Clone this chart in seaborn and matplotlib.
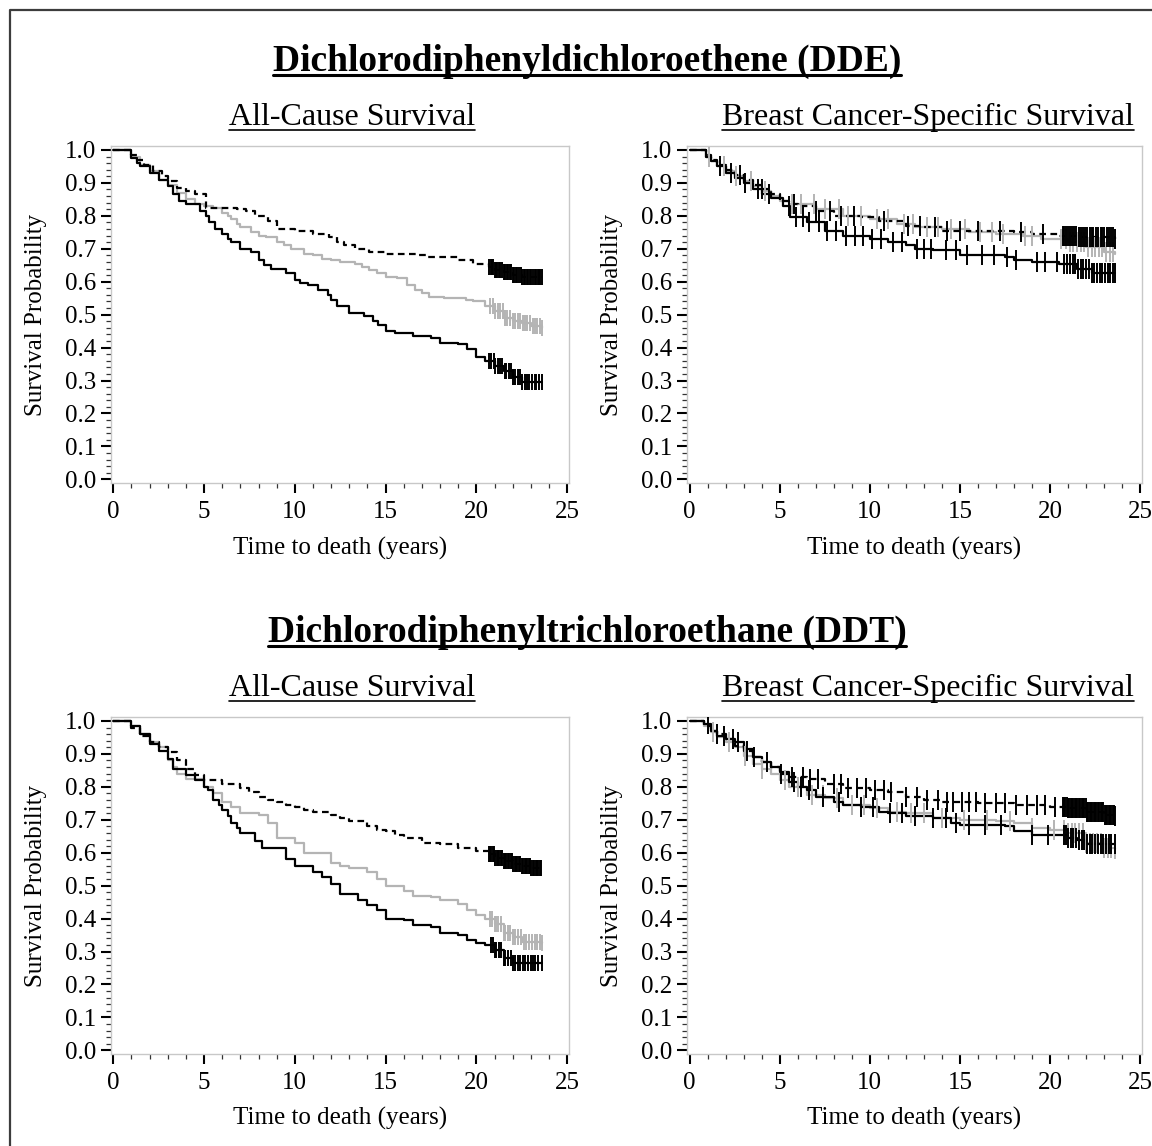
import numpy as np
import pandas as pd
import matplotlib
matplotlib.use("Agg")
import matplotlib.pyplot as plt
from matplotlib.ticker import MultipleLocator, FormatStrFormatter
from matplotlib.lines import Line2D
import seaborn as sns

sns.set_theme(style="white")
plt.rcParams['font.family'] = ['Liberation Serif', 'DejaVu Serif']

# ---------------- DATA ----------------
main_titles = ["Dichlorodiphenyldichloroethene (DDE)", "Dichlorodiphenyltrichloroethane (DDT)"]
sub_titles = ["All-Cause Survival", "Breast Cancer-Specific Survival"]
x_label = "Time to death (years)"
y_label = "Survival Probability"
x_ticks = [0, 5, 10, 15, 20, 25]
y_ticks = [0.0, 0.1, 0.2, 0.3, 0.4, 0.5, 0.6, 0.7, 0.8, 0.9, 1.0]

# DDE, all-cause
dde_ac_low_t = [0, 1.0, 1.3, 1.7, 2.2, 2.7, 3.0, 3.5, 4.0, 4.5, 5.1, 6.8, 7.3, 7.8, 8.5, 9.0, 10.0, 11.0,
                11.9, 12.3, 12.7, 13.3, 14.1, 15.0, 16.8, 17.2, 19.0, 19.8, 20.7, 21.0, 21.5, 22.0, 22.5, 23.6]
dde_ac_low_s = [1.0, 0.985, 0.97, 0.955, 0.935, 0.92, 0.905, 0.885, 0.875, 0.865, 0.825, 0.82, 0.815, 0.80,
                0.785, 0.76, 0.755, 0.745, 0.735, 0.72, 0.71, 0.70, 0.69, 0.685, 0.68, 0.675, 0.665, 0.655,
                0.645, 0.635, 0.63, 0.62, 0.615, 0.615]
dde_ac_low_c = [20.72, 20.78, 20.85, 20.93, 21.0, 21.06, 21.15, 21.22, 21.3, 21.41, 21.5, 21.58, 21.66, 21.75,
                21.83, 21.92, 22.0, 22.08, 22.17, 22.25, 22.36, 22.45, 22.52, 22.6, 22.7, 22.78, 22.86, 22.95,
                23.03, 23.12, 23.2, 23.28, 23.37, 23.45, 23.52, 23.6]

dde_ac_mid_t = [0, 1.0, 1.5, 2.0, 2.5, 3.0, 3.5, 4.0, 4.5, 5.0, 5.5, 6.0, 6.3, 6.5, 6.8, 7.0, 7.6, 8.0, 8.4,
                9.0, 9.4, 9.8, 10.5, 11.0, 11.5, 12.0, 12.5, 13.3, 13.7, 14.1, 14.5, 15.0, 15.6, 16.2, 16.6,
                17.0, 17.4, 18.2, 19.4, 19.8, 20.5, 21.0, 21.5, 22.0, 22.5, 23.0, 23.6]
dde_ac_mid_s = [1.0, 0.98, 0.955, 0.935, 0.91, 0.895, 0.87, 0.85, 0.835, 0.83, 0.825, 0.81, 0.80, 0.79, 0.775,
                0.765, 0.75, 0.74, 0.735, 0.72, 0.71, 0.70, 0.685, 0.68, 0.67, 0.665, 0.66, 0.655, 0.645,
                0.635, 0.625, 0.615, 0.61, 0.59, 0.575, 0.565, 0.555, 0.55, 0.545, 0.54, 0.525, 0.51, 0.49,
                0.48, 0.475, 0.465, 0.46]
dde_ac_mid_c = [20.75, 20.9, 21.0, 21.2, 21.3, 21.45, 21.6, 21.7, 21.85, 22.0, 22.1, 22.3, 22.4, 22.55, 22.7,
                22.8, 22.95, 23.1, 23.2, 23.35, 23.5, 23.6]

dde_ac_high_t = [0, 1.0, 1.3, 1.5, 2.0, 2.5, 3.0, 3.3, 3.6, 4.0, 4.8, 5.1, 5.3, 5.6, 6.0, 6.3, 6.5, 7.0, 7.6,
                 8.0, 8.3, 8.7, 9.5, 10.0, 10.3, 10.7, 11.3, 11.8, 12.0, 12.3, 13.0, 13.8, 14.3, 14.6, 15.0,
                 15.5, 16.5, 17.5, 18.0, 19.0, 19.5, 20.0, 20.5, 21.0, 21.5, 22.0, 22.5, 23.6]
dde_ac_high_s = [1.0, 0.975, 0.96, 0.95, 0.93, 0.91, 0.89, 0.865, 0.845, 0.835, 0.815, 0.80, 0.78, 0.76, 0.745,
                 0.73, 0.72, 0.70, 0.69, 0.665, 0.65, 0.64, 0.625, 0.605, 0.595, 0.59, 0.575, 0.56, 0.545,
                 0.525, 0.505, 0.495, 0.48, 0.47, 0.45, 0.445, 0.435, 0.43, 0.415, 0.41, 0.395, 0.37, 0.36,
                 0.345, 0.33, 0.31, 0.295, 0.295]
dde_ac_high_c = [20.7, 20.8, 20.95, 21.05, 21.2, 21.3, 21.4, 21.55, 21.65, 21.8, 21.9, 22.0, 22.15, 22.3, 22.4,
                 22.5, 22.65, 22.8, 22.9, 23.05, 23.2, 23.3, 23.45, 23.6]

# DDE, breast cancer-specific
dde_bc_low_t = [0, 0.9, 1.2, 1.5, 2.0, 2.5, 3.0, 3.5, 4.0, 4.5, 5.0, 5.5, 6.0, 7.0, 8.0, 9.5, 10.5, 12.0,
                13.0, 14.0, 18.0, 19.0, 20.5, 21.5, 23.6]
dde_bc_low_s = [1.0, 0.985, 0.97, 0.955, 0.94, 0.925, 0.91, 0.895, 0.88, 0.865, 0.845, 0.835, 0.83, 0.815,
                0.80, 0.795, 0.785, 0.77, 0.765, 0.755, 0.75, 0.745, 0.74, 0.735, 0.73]
dde_bc_low_c = [2.8, 4.0, 5.8, 7.0, 7.8, 8.4, 9.1, 10.8, 12.1, 12.8, 13.6, 14.3, 15.0, 16.0, 17.2, 18.4, 19.6,
                20.7, 20.8, 20.9, 21.0, 21.1, 21.2, 21.35, 21.45, 21.6, 21.7, 21.8, 21.95, 22.05, 22.2, 22.3,
                22.4, 22.55, 22.65, 22.8, 22.9, 23.0, 23.15, 23.25, 23.4, 23.5, 23.6]

dde_bc_mid_t = [0, 0.9, 1.2, 1.5, 2.0, 2.5, 3.0, 3.5, 4.0, 4.5, 5.0, 5.5, 7.0, 8.5, 10.0, 11.5, 12.5, 14.0,
                15.5, 17.0, 18.5, 19.5, 21.0, 22.0, 23.0, 23.6]
dde_bc_mid_s = [1.0, 0.98, 0.965, 0.95, 0.935, 0.92, 0.905, 0.89, 0.875, 0.86, 0.845, 0.835, 0.82, 0.80, 0.79,
                0.775, 0.765, 0.76, 0.75, 0.745, 0.74, 0.73, 0.72, 0.705, 0.69, 0.685]
dde_bc_mid_c = [1.1, 1.9, 2.6, 3.4, 4.2, 5.7, 6.2, 6.9, 7.5, 8.3, 8.8, 9.5, 10.4, 11.0, 11.9, 12.4, 13.2, 13.8,
                14.5, 15.3, 16.1, 16.8, 17.4, 18.6, 19.0, 20.6, 20.9, 21.1, 21.3, 21.5, 21.7, 21.9, 22.1,
                22.3, 22.5, 22.7, 22.9, 23.1, 23.3, 23.5]

dde_bc_high_t = [0, 0.9, 1.2, 1.5, 2.0, 2.5, 3.0, 3.5, 4.0, 4.5, 5.2, 5.6, 6.5, 7.5, 8.5, 10.0, 11.0, 12.0,
                 12.5, 13.5, 15.0, 17.5, 18.0, 19.0, 20.5, 21.5, 22.3, 23.6]
dde_bc_high_s = [1.0, 0.98, 0.965, 0.95, 0.93, 0.915, 0.90, 0.88, 0.865, 0.855, 0.83, 0.795, 0.78, 0.755, 0.74,
                 0.73, 0.72, 0.71, 0.70, 0.695, 0.68, 0.675, 0.665, 0.66, 0.655, 0.64, 0.625, 0.625]
dde_bc_high_c = [1.7, 2.3, 3.1, 3.8, 4.4, 5.5, 5.9, 6.3, 6.6, 7.2, 7.6, 8.1, 8.7, 9.2, 9.6, 10.1, 10.6, 11.3,
                 11.8, 12.6, 13.0, 13.4, 14.2, 14.8, 15.4, 16.2, 16.9, 17.6, 18.1, 19.3, 19.7, 20.4, 20.8,
                 20.95, 21.1, 21.25, 21.4, 21.55, 21.7, 21.85, 22.0, 22.15, 22.3, 22.45, 22.6, 22.75, 22.9,
                 23.05, 23.2, 23.35, 23.5, 23.6]

# DDT, all-cause
ddt_ac_low_t = [0, 1.0, 1.5, 2.0, 2.5, 3.0, 3.5, 4.0, 4.5, 5.0, 6.0, 7.0, 7.5, 8.0, 8.5, 9.0, 9.5, 10.0, 10.5,
                11.0, 12.0, 12.5, 13.0, 14.0, 14.5, 15.0, 15.5, 16.0, 17.0, 18.0, 19.0, 20.0, 20.7, 21.0,
                21.5, 22.0, 22.5, 23.0, 23.6]
ddt_ac_low_s = [1.0, 0.98, 0.955, 0.935, 0.92, 0.905, 0.88, 0.855, 0.835, 0.82, 0.81, 0.795, 0.785, 0.77, 0.76,
                0.755, 0.745, 0.74, 0.73, 0.725, 0.715, 0.705, 0.695, 0.68, 0.67, 0.665, 0.655, 0.645, 0.63,
                0.625, 0.615, 0.605, 0.595, 0.585, 0.575, 0.565, 0.56, 0.555, 0.55]
ddt_ac_low_c = [20.7, 20.76, 20.83, 20.9, 20.97, 21.05, 21.12, 21.2, 21.27, 21.35, 21.43, 21.5, 21.58, 21.65,
                21.73, 21.8, 21.88, 21.95, 22.03, 22.1, 22.18, 22.26, 22.33, 22.41, 22.5, 22.57, 22.65, 22.72,
                22.8, 22.88, 22.95, 23.03, 23.1, 23.18, 23.26, 23.33, 23.41, 23.5, 23.57]

ddt_ac_mid_t = [0, 1.0, 1.5, 2.0, 2.5, 3.0, 3.3, 3.5, 4.0, 5.0, 5.5, 6.0, 6.5, 7.0, 8.0, 8.5, 9.0, 10.0, 10.5,
                12.0, 12.5, 13.0, 14.0, 14.5, 15.0, 16.0, 16.5, 17.5, 18.0, 19.0, 19.5, 20.0, 20.5, 21.0,
                21.5, 22.0, 22.5, 23.6]
ddt_ac_mid_s = [1.0, 0.985, 0.96, 0.935, 0.92, 0.88, 0.86, 0.84, 0.825, 0.80, 0.78, 0.755, 0.74, 0.72, 0.715,
                0.69, 0.645, 0.63, 0.60, 0.57, 0.56, 0.555, 0.54, 0.52, 0.50, 0.485, 0.47, 0.465, 0.455,
                0.445, 0.425, 0.41, 0.40, 0.385, 0.355, 0.345, 0.33, 0.325]
ddt_ac_mid_c = [20.75, 20.85, 21.0, 21.1, 21.2, 21.35, 21.5, 21.6, 21.75, 21.85, 22.0, 22.1, 22.3, 22.45,
                22.6, 22.75, 22.9, 23.05, 23.2, 23.35, 23.5, 23.6]

ddt_ac_high_t = [0, 1.0, 1.5, 2.0, 2.5, 3.0, 3.3, 4.0, 4.5, 5.0, 5.2, 5.5, 5.8, 6.0, 6.3, 6.5, 6.8, 7.0, 7.8,
                 8.2, 9.5, 10.0, 11.0, 11.5, 12.0, 12.5, 13.5, 14.0, 14.5, 15.0, 16.0, 16.5, 17.5, 18.0, 19.0,
                 19.5, 20.0, 20.5, 21.0, 21.5, 22.0, 23.6]
ddt_ac_high_s = [1.0, 0.985, 0.96, 0.93, 0.91, 0.885, 0.855, 0.835, 0.82, 0.80, 0.79, 0.76, 0.745, 0.73, 0.71,
                 0.69, 0.675, 0.66, 0.635, 0.615, 0.58, 0.56, 0.54, 0.525, 0.505, 0.475, 0.455, 0.44, 0.425,
                 0.40, 0.395, 0.38, 0.375, 0.355, 0.35, 0.335, 0.325, 0.32, 0.305, 0.28, 0.265, 0.265]
ddt_ac_high_c = [20.8, 20.9, 21.0, 21.1, 21.25, 21.35, 21.5, 21.6, 21.75, 21.9, 22.0, 22.15, 22.3, 22.4,
                 22.55, 22.7, 22.85, 23.0, 23.1, 23.25, 23.4, 23.6]

# DDT, breast cancer-specific
ddt_bc_low_t = [0, 0.8, 1.2, 1.5, 2.0, 2.5, 3.0, 3.5, 4.0, 4.5, 5.0, 5.5, 6.5, 7.5, 8.5, 10.0, 11.0, 12.0,
                13.0, 14.0, 16.0, 18.0, 20.0, 21.0, 22.0, 23.0, 23.6]
ddt_bc_low_s = [1.0, 0.985, 0.97, 0.96, 0.945, 0.925, 0.91, 0.89, 0.875, 0.86, 0.84, 0.83, 0.825, 0.81, 0.795,
                0.79, 0.785, 0.77, 0.76, 0.755, 0.75, 0.745, 0.74, 0.735, 0.725, 0.715, 0.71]
ddt_bc_low_c = [1.5, 2.4, 3.2, 4.3, 5.1, 5.7, 6.3, 6.7, 7.1, 8.0, 8.4, 8.8, 9.3, 9.8, 10.3, 10.8, 11.2, 12.0,
                12.6, 13.2, 13.8, 14.3, 14.6, 15.1, 15.5, 15.9, 16.4, 17.0, 17.5, 18.1, 18.7, 19.3, 19.7,
                20.3, 20.7, 20.77, 20.85, 20.92, 21.0, 21.07, 21.15, 21.22, 21.3, 21.37, 21.45, 21.52, 21.6,
                21.67, 21.75, 21.82, 21.9, 21.97, 22.05, 22.12, 22.2, 22.27, 22.35, 22.42, 22.5, 22.57,
                22.65, 22.72, 22.8, 22.87, 22.95, 23.02, 23.1, 23.17, 23.25, 23.32, 23.4, 23.47, 23.55, 23.6]

ddt_bc_mid_t = [0, 0.8, 1.2, 1.5, 2.0, 2.5, 3.0, 3.5, 4.0, 4.5, 5.0, 5.5, 6.5, 7.5, 8.5, 10.0, 11.0, 12.0,
                13.5, 15.0, 17.0, 18.0, 19.0, 20.0, 21.0, 22.0, 23.0, 23.6]
ddt_bc_mid_s = [1.0, 0.985, 0.965, 0.95, 0.935, 0.92, 0.895, 0.87, 0.855, 0.84, 0.82, 0.80, 0.775, 0.765, 0.745,
                0.735, 0.725, 0.72, 0.705, 0.70, 0.695, 0.69, 0.675, 0.67, 0.66, 0.63, 0.615, 0.61]
ddt_bc_mid_c = [1.3, 2.2, 3.1, 4.0, 5.3, 6.0, 6.8, 7.4, 8.2, 9.0, 9.7, 10.4, 11.5, 12.3, 13.0, 14.0, 15.2,
                16.5, 17.8, 19.0, 20.2, 20.8, 21.0, 21.2, 21.4, 21.6, 21.8, 22.0, 22.2, 22.4, 22.6, 22.8,
                23.0, 23.2, 23.4, 23.6]

ddt_bc_high_t = [0, 0.8, 1.2, 1.5, 2.0, 2.5, 3.0, 3.5, 4.0, 4.5, 5.0, 5.5, 6.0, 6.5, 7.0, 8.0, 8.5, 9.5, 10.5,
                 11.0, 12.0, 13.5, 14.5, 15.0, 17.5, 18.0, 19.0, 20.5, 21.0, 21.5, 22.0, 23.6]
ddt_bc_high_s = [1.0, 0.99, 0.97, 0.955, 0.945, 0.935, 0.915, 0.89, 0.875, 0.86, 0.845, 0.815, 0.80, 0.79, 0.77,
                 0.755, 0.745, 0.74, 0.725, 0.72, 0.71, 0.705, 0.69, 0.685, 0.68, 0.665, 0.655, 0.655, 0.645,
                 0.64, 0.625, 0.625]
ddt_bc_high_c = [1.0, 1.9, 2.7, 3.6, 5.8, 6.2, 6.6, 7.4, 8.3, 9.5, 10.2, 11.1, 11.8, 12.5, 13.5, 14.2, 14.8,
                 15.5, 16.4, 17.3, 19.0, 19.9, 20.8, 20.9, 21.0, 21.15, 21.3, 21.45, 21.6, 21.75, 21.9, 22.05,
                 22.2, 22.35, 22.5, 22.65, 22.8, 22.95, 23.1, 23.25, 23.4, 23.6]

# ---------------- STYLE ----------------
W, H = 1152, 1146
GREY = "#b4b4b4"
BLACK = "#000000"
DASH = (0, (3.0, 2.0))

fig = plt.figure(figsize=(W / 100, H / 100), dpi=100)


def fx(px):
    return px / W


def fy(px):
    return 1 - px / H


panels = [
    (110.7, 569.0, 146.0, 483.0, [(dde_ac_mid_t, dde_ac_mid_s, dde_ac_mid_c, GREY, "-"),
                                  (dde_ac_low_t, dde_ac_low_s, dde_ac_low_c, BLACK, DASH),
                                  (dde_ac_high_t, dde_ac_high_s, dde_ac_high_c, BLACK, "-")], 12),
    (687.0, 1142.0, 146.0, 483.0, [(dde_bc_mid_t, dde_bc_mid_s, dde_bc_mid_c, GREY, "-"),
                                   (dde_bc_low_t, dde_bc_low_s, dde_bc_low_c, BLACK, DASH),
                                   (dde_bc_high_t, dde_bc_high_s, dde_bc_high_c, BLACK, "-")], 14),
    (110.7, 569.0, 717.0, 1054.0, [(ddt_ac_mid_t, ddt_ac_mid_s, ddt_ac_mid_c, GREY, "-"),
                                   (ddt_ac_low_t, ddt_ac_low_s, ddt_ac_low_c, BLACK, DASH),
                                   (ddt_ac_high_t, ddt_ac_high_s, ddt_ac_high_c, BLACK, "-")], 12),
    (687.0, 1142.0, 717.0, 1054.0, [(ddt_bc_mid_t, ddt_bc_mid_s, ddt_bc_mid_c, GREY, "-"),
                                    (ddt_bc_low_t, ddt_bc_low_s, ddt_bc_low_c, BLACK, DASH),
                                    (ddt_bc_high_t, ddt_bc_high_s, ddt_bc_high_c, BLACK, "-")], 14),
]

for (l, r, t, b, curves, msz) in panels:
    ax = fig.add_axes([fx(l), fy(b), fx(r) - fx(l), (b - t) / H])
    for (tt, ss, cc, col, ls) in curves:
        df = pd.DataFrame({"t": tt, "s": ss})
        sns.lineplot(data=df, x="t", y="s", drawstyle="steps-post", color=col, linestyle=ls,
                     linewidth=1.6, estimator=None, sort=False, ax=ax)
        idx = np.searchsorted(np.asarray(tt), np.asarray(cc), side="right") - 1
        cy = np.asarray(ss)[idx]
        sns.scatterplot(x=cc, y=cy, marker="|", s=msz ** 2, color=col, linewidth=1.4, ax=ax, zorder=3)
    ax.set_xlim(-0.14, 25.1)
    ax.set_ylim(-0.011, 1.012)
    ax.set_xticks(x_ticks)
    ax.set_yticks(y_ticks)
    ax.xaxis.set_minor_locator(MultipleLocator(1))
    ax.yaxis.set_minor_locator(MultipleLocator(0.02))
    ax.yaxis.set_major_formatter(FormatStrFormatter("%.1f"))
    ax.tick_params(axis="both", which="major", direction="out", length=7, width=1.5, color="black",
                   labelsize=18, labelcolor="black", pad=3.5)
    ax.tick_params(axis="x", which="major", pad=6)
    ax.tick_params(axis="both", which="minor", direction="out", length=3.8, width=0.9, color="#333333")
    ax.tick_params(bottom=True, left=True, which="both")
    for sp in ax.spines.values():
        sp.set_color("#c8c8c8")
        sp.set_linewidth(1.0)
    ax.set_xlabel(x_label, fontsize=18, color="black")
    ax.set_ylabel(y_label, fontsize=18, color="black")
    ax.xaxis.label.set_va("center")
    ax.yaxis.label.set_va("center")
    ax.xaxis.set_label_coords(0.5, (b - 548.0) / (b - t) if t < 500 else (b - 1118.0) / (b - t))
    ax.yaxis.set_label_coords((36.0 - l) / (r - l) if l < 300 else (612.0 - l) / (r - l), 0.5)
    ax.set_facecolor("white")
    ax.grid(False)

# ---------------- TITLES ----------------
texts = []
for k, off in enumerate([0, 571]):
    tm = fig.text(fx(587), fy(71 + off), main_titles[k], ha="center", va="baseline",
                  fontsize=27, fontweight="bold", color="black")
    texts.append((tm, 71 + off + 4, 2.2))
    for xc, st in zip([352, 928], sub_titles):
        ts = fig.text(fx(xc), fy(125 + off), st, ha="center", va="baseline", fontsize=23, color="black")
        texts.append((ts, 125 + off + 5, 1.2))

fig.canvas.draw()
rend = fig.canvas.get_renderer()
for (tobj, ypx, lw) in texts:
    bb = tobj.get_window_extent(rend)
    fig.add_artist(Line2D([bb.x0 / W, bb.x1 / W], [fy(ypx), fy(ypx)], transform=fig.transFigure,
                          color="black", linewidth=lw))

# figure frame (top and left)
fig.add_artist(Line2D([fx(9.5), fx(9.5), 1.0], [0.0, fy(9.5), fy(9.5)], transform=fig.transFigure,
                      color="#3c3c3c", linewidth=1.6))

fig.savefig("out.png", dpi=100)
